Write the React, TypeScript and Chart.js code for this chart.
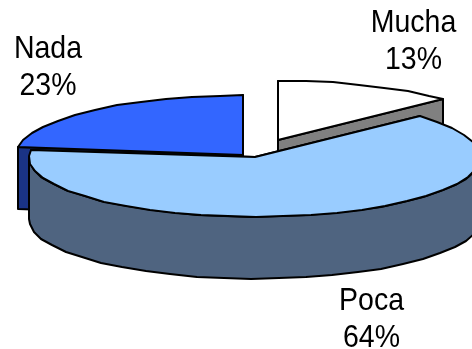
import React, { useEffect, useRef } from "react";
import { Chart, registerables } from "chart.js";

Chart.register(...registerables);

// Shares of each answer, clockwise from twelve o'clock.
const categories = ["Mucha", "Poca", "Nada"];
const shares = [13, 64, 23];
const topColors = ["#FFFFFF", "#99CCFF", "#3366FF"];
const wallColors = ["#808080", "#4F6480", "#1A3385"];
// How far each slice is pulled out of the pie, as a fraction of its radius.
const explode = [0.28, 0.03, 0.07];
// Extra vertical settling of each slice once it is pulled out.
const settle = [0, 0, 2.5];
// Painting order, back to front.
const paintOrder = [0, 2, 1];
const labelAnchors = [
  { x: 413.5, y: 32 },
  { x: 371.5, y: 310 },
  { x: 48, y: 58 },
];

const RADIUS = 160;
const VIEW = { cx: 253, cy: 155.5, rx: 226, ry: 59.5, depth: 62, step: (7 * Math.PI) / 180 };

const pie3d = {
  id: "pie3d",
  beforeDatasetsDraw(chart: any) {
    const { ctx } = chart;
    const arcs = chart.getDatasetMeta(0).data;
    const sx = VIEW.rx / RADIUS;
    const sy = VIEW.ry / RADIUS;

    const outline = (pts: number[][], fill: string) => {
      ctx.beginPath();
      // Whole-pixel vertices give the rim its faceted outline.
      pts.forEach(([x, y], i) =>
        i ? ctx.lineTo(Math.round(x), Math.round(y)) : ctx.moveTo(Math.round(x), Math.round(y))
      );
      ctx.closePath();
      ctx.fillStyle = fill;
      ctx.fill();
      ctx.lineJoin = "round";
      ctx.lineWidth = 2;
      ctx.strokeStyle = "#000000";
      ctx.stroke();
    };

    paintOrder.forEach((index) => {
      const arc = arcs[index];
      const { startAngle, endAngle, outerRadius } = arc.getProps(
        ["startAngle", "endAngle", "outerRadius"],
        true
      );
      const mid = (startAngle + endAngle) / 2;
      const shift = arc.options.offset;
      const ox = VIEW.cx + shift * Math.cos(mid) * sx;
      const oy = VIEW.cy + shift * Math.sin(mid) * sy + settle[index];
      const rim = (a: number, z = 0) => [
        ox + outerRadius * sx * Math.cos(a),
        oy + outerRadius * sy * Math.sin(a) + z,
      ];
      const sample = (from: number, to: number) => {
        const out: number[] = [];
        for (let a = from; a < to - 1e-6; a += VIEW.step) out.push(a);
        out.push(to);
        return out;
      };

      // Cut faces below the two straight edges.
      [startAngle, endAngle].forEach((a: number) => {
        outline(
          [[ox, oy], rim(a), rim(a, VIEW.depth), [ox, oy + VIEW.depth]],
          wallColors[index]
        );
      });

      // Curved outer wall, only where it faces the viewer.
      const from = Math.max(startAngle, 0);
      const to = Math.min(endAngle, Math.PI);
      if (to > from) {
        const angles = sample(from, to);
        outline(
          [
            ...angles.map((a) => rim(a)),
            ...angles.slice().reverse().map((a) => rim(a, VIEW.depth)),
          ],
          wallColors[index]
        );
      }

      // Top surface.
      outline(
        [[ox, oy], ...sample(startAngle, endAngle).map((a) => rim(a))],
        arc.options.backgroundColor
      );
    });

    // Category and percentage captions, in a slightly tall face.
    ctx.fillStyle = "#000000";
    ctx.font = '28.5px "Liberation Sans", Arial, sans-serif';
    ctx.textAlign = "center";
    ctx.textBaseline = "alphabetic";
    categories.forEach((name, i) => {
      const { x, y } = labelAnchors[i];
      [name, `${shares[i]}%`].forEach((text, line) => {
        ctx.save();
        ctx.translate(x, y + line * 36.5);
        ctx.scale(1, 1.07);
        ctx.fillText(text, 0, 0);
        ctx.restore();
      });
    });
    return false;
  },
};

export default function App() {
  const ref = useRef<HTMLCanvasElement>(null);
  useEffect(() => {
    const chart = new Chart(ref.current as HTMLCanvasElement, {
      type: "pie",
      data: {
        labels: categories,
        datasets: [
          {
            data: shares,
            backgroundColor: topColors,
            offset: explode.map((f) => f * RADIUS),
            borderWidth: 0,
          },
        ],
      },
      options: {
        responsive: false,
        animation: false,
        radius: RADIUS,
        rotation: 0,
        layout: { padding: 0 },
        plugins: { legend: { display: false }, tooltip: { enabled: false } },
      },
      plugins: [pie3d],
    } as any);
    return () => chart.destroy();
  }, []);
  return (
    <canvas
      ref={ref}
      width={472}
      height={349}
      style={{ position: "absolute", left: 0, top: 0, width: 472, height: 349 }}
    />
  );
}
